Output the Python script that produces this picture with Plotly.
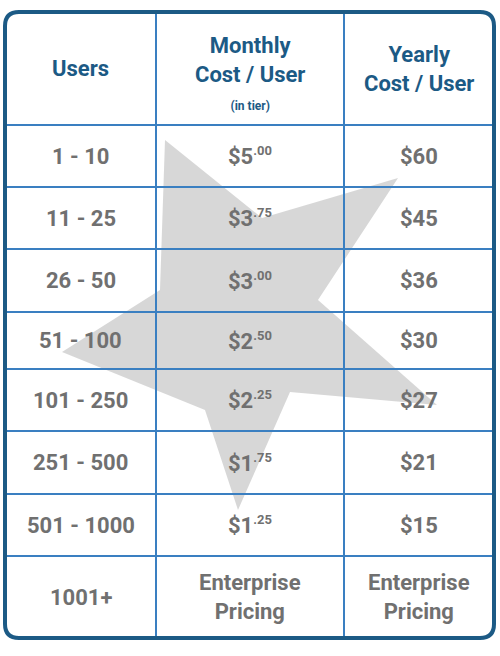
import plotly.graph_objects as go

# table content
headers = ["Users", "Monthly<br>Cost / User<br><span style='font-size:12px'>(in tier)</span>", "Yearly<br>Cost / User"]
users = ["1 - 10", "11 - 25", "26 - 50", "51 - 100", "101 - 250", "251 - 500", "501 - 1000", "1001+"]
monthly_dollars = ["5", "3", "3", "2", "2", "1", "1"]
monthly_cents = ["00", "75", "00", "50", "25", "75", "25"]
yearly = ["$60", "$45", "$36", "$30", "$27", "$21", "$15"]
enterprise = "Enterprise<br>Pricing"

# layout geometry (pixels)
col_edges = [5, 156, 344, 494]
row_edges = [12, 125, 187, 249, 312, 369, 431, 494, 556, 638]
star_x = [165, 262, 398, 318, 437, 290, 238, 205, 62, 160, 165]
star_y = [140, 218, 178, 300, 405, 392, 510, 410, 352, 290, 140]

blue_dark = "#1c5a85"
blue_line = "#3a7fc1"
grey = "#707070"

fig = go.Figure()
fig.add_trace(go.Scatter(x=star_x, y=star_y, mode="lines", fill="toself",
                         fillcolor="rgba(150,150,150,0.38)", line=dict(width=0),
                         hoverinfo="skip"))

shapes = []
for x in col_edges[1:-1]:
    shapes.append(dict(type="line", x0=x, x1=x, y0=row_edges[0], y1=row_edges[-1],
                       line=dict(color=blue_line, width=2)))
for y in row_edges[1:-1]:
    shapes.append(dict(type="line", x0=col_edges[0], x1=col_edges[-1], y0=y, y1=y,
                       line=dict(color=blue_line, width=2)))
x0, x1, y0, y1, r = col_edges[0], col_edges[-1], row_edges[0], row_edges[-1], 14
shapes.append(dict(type="path", line=dict(color=blue_dark, width=4),
                   path=f"M {x0+r},{y0} L {x1-r},{y0} Q {x1},{y0} {x1},{y0+r} L {x1},{y1-r} "
                        f"Q {x1},{y1} {x1-r},{y1} L {x0+r},{y1} Q {x0},{y1} {x0},{y1-r} "
                        f"L {x0},{y0+r} Q {x0},{y0} {x0+r},{y0} Z"))

cx = [(col_edges[i] + col_edges[i + 1]) / 2 for i in range(3)]
cy = [(row_edges[i] + row_edges[i + 1]) / 2 for i in range(len(row_edges) - 1)]

head = dict(size=22, color=blue_dark, family="Roboto")
body = dict(size=22, color=grey, family="Roboto")
ann = []
for i, h in enumerate(headers):
    ann.append(dict(x=cx[i], y=cy[0] + (4 if i == 1 else 0), text=f"<b>{h}</b>",
                    showarrow=False, font=head))
for j, u in enumerate(users):
    ann.append(dict(x=cx[0], y=cy[j + 1], text=f"<b>{u}</b>", showarrow=False, font=body))
for j in range(len(yearly)):
    ann.append(dict(x=cx[1], y=cy[j + 1],
                    text=f"<b>${monthly_dollars[j]}<sup><span style='font-size:13px'>.{monthly_cents[j]}</span></sup></b>",
                    showarrow=False, font=body))
    ann.append(dict(x=cx[2], y=cy[j + 1], text=f"<b>{yearly[j]}</b>", showarrow=False, font=body))
for i in (1, 2):
    ann.append(dict(x=cx[i], y=cy[-1], text=f"<b>{enterprise}</b>", showarrow=False, font=body))

fig.update_layout(width=500, height=656, margin=dict(l=0, r=0, t=0, b=0),
                  plot_bgcolor="white", paper_bgcolor="white", showlegend=False,
                  xaxis=dict(range=[0, 500], visible=False, fixedrange=True),
                  yaxis=dict(range=[656, 0], visible=False, fixedrange=True),
                  shapes=shapes, annotations=ann)
fig.write_html("out.html", config={"displayModeBar": False})

# drop the default page margin so the figure sits at the window origin
with open("out.html") as f:
    html = f.read()
html = html.replace("<head>", "<head><style>body{margin:0;overflow:hidden}</style>", 1)
with open("out.html", "w") as f:
    f.write(html)
